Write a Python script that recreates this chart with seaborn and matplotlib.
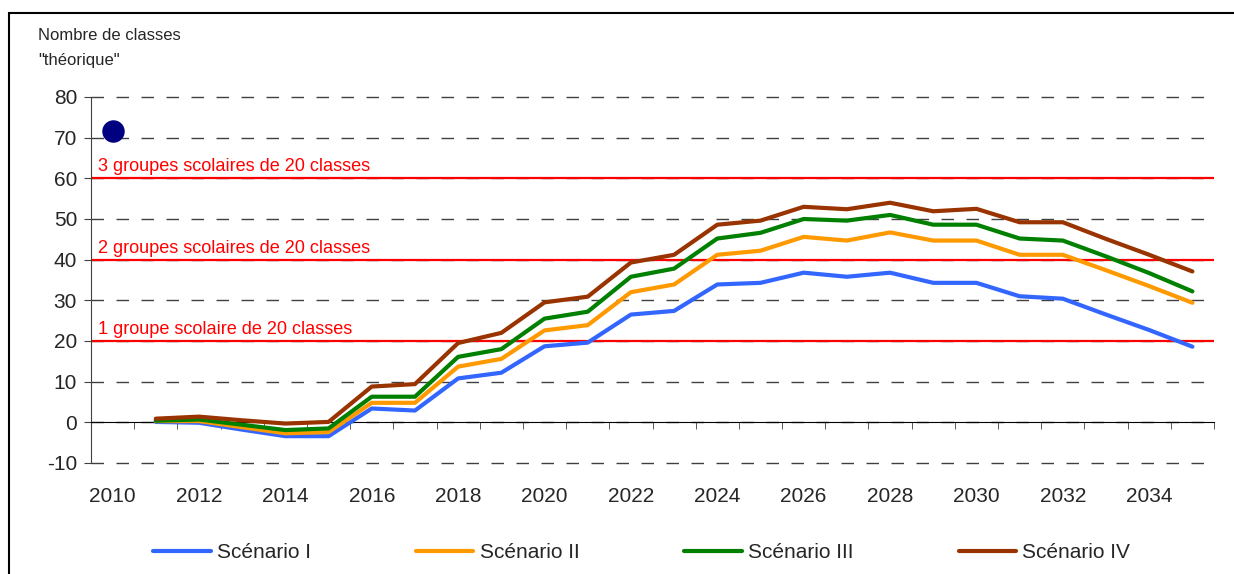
import pandas as pd
import matplotlib.pyplot as plt
import seaborn as sns
from matplotlib.patches import Rectangle
from matplotlib.ticker import FixedLocator
import matplotlib.transforms as mtransforms

# Values
years = [2011, 2012, 2013, 2014, 2015, 2016, 2017, 2018, 2019, 2020, 2021, 2022, 2023,
         2024, 2025, 2026, 2027, 2028, 2029, 2030, 2031, 2032, 2033, 2034, 2035]
scenario_1 = [0.1, -0.1, -1.8, -3.4, -3.4, 3.4, 2.9, 10.8, 12.2, 18.7, 19.6, 26.5, 27.4,
              33.9, 34.3, 36.8, 35.8, 36.8, 34.3, 34.3, 31.0, 30.4, 26.5, 22.7, 18.6]
scenario_2 = [0.3, 0.3, -1.2, -2.7, -2.4, 4.8, 4.8, 13.7, 15.6, 22.6, 23.9, 32.0, 33.9,
              41.2, 42.2, 45.6, 44.7, 46.7, 44.7, 44.7, 41.2, 41.2, 37.4, 33.5, 29.4]
scenario_3 = [0.4, 0.7, -0.6, -1.9, -1.5, 6.3, 6.3, 16.1, 18.0, 25.5, 27.2, 35.8, 37.8,
              45.2, 46.6, 50.0, 49.6, 51.0, 48.6, 48.6, 45.2, 44.7, 40.8, 36.7, 32.2]
scenario_4 = [0.9, 1.4, 0.5, -0.3, 0.1, 8.8, 9.4, 19.5, 22.0, 29.5, 30.9, 39.3, 41.2,
              48.6, 49.6, 53.0, 52.4, 54.0, 51.9, 52.5, 49.2, 49.2, 45.1, 41.2, 37.1]
scenario_names = ["Scénario I", "Scénario II", "Scénario III", "Scénario IV"]
scenario_colors = ["#3366FF", "#FF9900", "#008000", "#993300"]

dot_year = [2010]
dot_value = [71.6]

thresholds = [20, 40, 60]
threshold_labels = ["1 groupe scolaire de 20 classes",
                    "2 groupes scolaires de 20 classes",
                    "3 groupes scolaires de 20 classes"]

year_labels = list(range(2010, 2035, 2))
y_ticks = list(range(-10, 90, 10))


def main():
    sns.set_style("white")
    plt.rcParams["font.family"] = ["Liberation Sans", "DejaVu Sans"]
    plt.rcParams["axes.unicode_minus"] = False

    df = pd.DataFrame({"year": years, "Scénario I": scenario_1, "Scénario II": scenario_2,
                       "Scénario III": scenario_3, "Scénario IV": scenario_4})
    df_long = df.melt(id_vars="year", var_name="scenario", value_name="classes")

    fig = plt.figure(figsize=(12.34, 5.74), dpi=100)
    ax = fig.add_axes([91 / 1234, 1 - 463 / 574, (1214 - 91) / 1234, (463 - 97) / 574])

    # dashed grid
    ax.set_yticks(y_ticks)
    ax.yaxis.grid(True, color="#404040", linestyle=(0, (9, 9)), linewidth=1)
    ax.set_axisbelow(True)

    # red reference lines with labels
    trans = mtransforms.blended_transform_factory(ax.transAxes, ax.transData)
    for level, label in zip(thresholds, threshold_labels):
        ax.axhline(level, color="#FF0000", linewidth=1.6, zorder=2)
        ax.text(0.006, level + 0.7, label, transform=trans, color="#FF0000",
                fontsize=13.1, va="bottom", ha="left")

    sns.lineplot(data=df_long, x="year", y="classes", hue="scenario",
                 hue_order=scenario_names, palette=scenario_colors,
                 linewidth=3, ax=ax, zorder=3)
    ax.scatter(dot_year, dot_value, s=230, color="#000080", zorder=4)

    ax.set_xlim(2009.5, 2035.5)
    ax.set_ylim(-10, 80)
    ax.set_xlabel("")
    ax.set_ylabel("")

    # axes lines: x axis crosses at 0
    for side in ["top", "right"]:
        ax.spines[side].set_visible(False)
    ax.spines["left"].set_color("#404040")
    ax.spines["bottom"].set_position(("data", 0))
    ax.spines["bottom"].set_color("black")
    ax.xaxis.set_major_locator(FixedLocator([]))
    ax.xaxis.set_minor_locator(FixedLocator([y - 0.5 for y in range(2010, 2037)]))
    ax.tick_params(axis="x", which="minor", direction="out", length=5, color="#404040",
                   bottom=True)
    ax.tick_params(axis="y", direction="out", length=5, color="#404040", left=True,
                   labelsize=15, pad=5)
    for line in ax.get_ygridlines():
        line.set_clip_on(False)

    # year labels at the bottom of the plot area
    sec = ax.secondary_xaxis("bottom")
    sec.set_xticks(year_labels)
    sec.set_xticklabels([str(y) for y in year_labels])
    sec.tick_params(length=0, labelsize=15, pad=17)
    sec.spines["bottom"].set_visible(False)

    ax.get_legend().remove()
    handles, labels = ax.get_legend_handles_labels()
    fig.legend(handles, labels, loc="center", bbox_to_anchor=(0.52, 1 - 553 / 574),
               ncol=4, frameon=False, fontsize=15, handlelength=2.75,
               columnspacing=5.05, handletextpad=0.3)

    fig.text(38 / 1234, 1 - 35 / 574, "Nombre de classes", fontsize=12, va="center")
    fig.text(38 / 1234, 1 - 60 / 574, '"théorique"', fontsize=12, va="center")

    # frame around the chart
    fig.add_artist(Rectangle((9 / 1234, -0.1), 1.2, 1.1 - 13 / 574, transform=fig.transFigure,
                             fill=False, edgecolor="black", linewidth=1.5))

    fig.savefig("out.png", dpi=100)


if __name__ == "__main__":
    main()
